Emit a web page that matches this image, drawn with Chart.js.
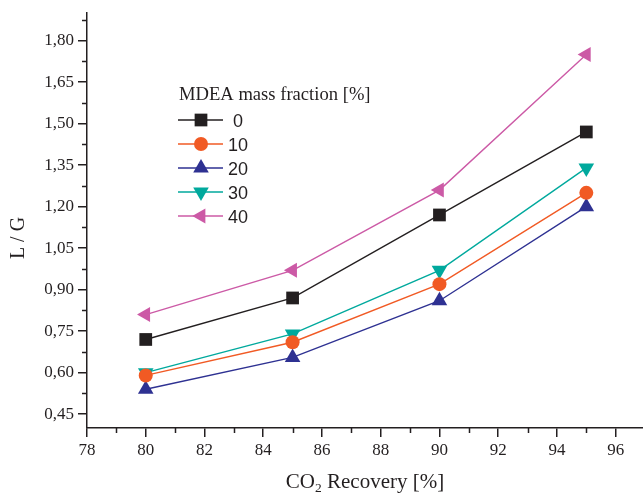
<!DOCTYPE html>
<html>
<head>
<meta charset="utf-8">
<script src="https://cdn.jsdelivr.net/npm/chart.js@4"></script>
<style>
  body { margin: 0; background: #fff; }
  canvas { display: block; }
</style>
</head>
<body>
<canvas id="lgChart" width="643" height="495"></canvas>
<script>
// CO2 recovery [%] on the x axis
const recovery = [80, 85, 90, 95];
// MDEA mass fraction [%] of each series
const fractions = ['0', '10', '20', '30', '40'];
// L / G ratio for each MDEA fraction
const lg0 = [0.72, 0.87, 1.17, 1.47];
const lg10 = [0.59, 0.71, 0.92, 1.25];
const lg20 = [0.54, 0.655, 0.86, 1.20];
const lg30 = [0.60, 0.74, 0.97, 1.34];
const lg40 = [0.81, 0.97, 1.26, 1.75];

const xTicks = [78, 80, 82, 84, 86, 88, 90, 92, 94, 96];
const xMinorTicks = [79, 81, 83, 85, 87, 89, 91, 93, 95];
const yTicks = [0.45, 0.60, 0.75, 0.90, 1.05, 1.20, 1.35, 1.50, 1.65, 1.80];
const yMinorTicks = [0.525, 0.675, 0.825, 0.975, 1.125, 1.275, 1.425, 1.575, 1.725, 1.875];

const ink = '#231f20';
const serif = '"Liberation Serif", "Times New Roman", serif';
const sans = '"Liberation Sans", Arial, sans-serif';

function series(label, values, color, style, radius, rotation) {
    return {
        label: label,
        data: recovery.map((x, i) => ({ x: x, y: values[i] })),
        borderColor: color,
        backgroundColor: color,
        borderWidth: 1.4,
        pointStyle: style,
        pointRadius: radius,
        pointHoverRadius: radius,
        pointRotation: rotation,
        pointBorderWidth: 0,
        tension: 0
    };
}

// minor tick marks, axis titles and the inset legend
const decorations = {
    id: 'decorations',
    afterDraw(chart) {
        const ctx = chart.ctx;
        const area = chart.chartArea;
        const xs = chart.scales.x;
        const ys = chart.scales.y;
        ctx.save();
        ctx.strokeStyle = ink;
        ctx.lineWidth = 1.5;
        ctx.beginPath();
        xMinorTicks.forEach(v => {
            const px = Math.round(xs.getPixelForValue(v)) + 0.5;
            ctx.moveTo(px, area.bottom);
            ctx.lineTo(px, area.bottom + 5);
        });
        yMinorTicks.forEach(v => {
            const py = Math.round(ys.getPixelForValue(v)) + 0.5;
            ctx.moveTo(area.left - 5, py);
            ctx.lineTo(area.left, py);
        });
        ctx.stroke();

        // y title
        ctx.fillStyle = ink;
        ctx.save();
        ctx.translate(24, 238);
        ctx.rotate(-Math.PI / 2);
        ctx.font = '20px ' + serif;
        ctx.textAlign = 'center';
        ctx.textBaseline = 'alphabetic';
        ctx.fillText('L / G', 0, 0);
        ctx.restore();

        // x title with subscript
        const main = '21px ' + serif;
        const sub = '13.5px ' + serif;
        ctx.font = main;
        const wCO = ctx.measureText('CO').width;
        const wRest = ctx.measureText(' Recovery [%]').width;
        ctx.font = sub;
        const w2 = ctx.measureText('2').width;
        let tx = (area.left + area.right) / 2 - (wCO + w2 + wRest) / 2;
        const base = 488;
        ctx.textAlign = 'left';
        ctx.font = main;
        ctx.fillText('CO', tx, base);
        ctx.font = sub;
        ctx.fillText('2', tx + wCO, base + 4);
        ctx.font = main;
        ctx.fillText(' Recovery [%]', tx + wCO + w2, base);

        // legend
        ctx.font = '18.6px ' + serif;
        ctx.fillText('MDEA mass fraction [%]', 179, 100);
        ctx.font = '18px ' + sans;
        chart.data.datasets.forEach((ds, i) => {
            const cy = 120 + i * 24;
            ctx.strokeStyle = ds.borderColor;
            ctx.lineWidth = 1.4;
            ctx.beginPath();
            ctx.moveTo(178, cy);
            ctx.lineTo(223, cy);
            ctx.stroke();
            ctx.fillStyle = ds.backgroundColor;
            Chart.helpers.drawPoint(ctx, {
                pointStyle: ds.pointStyle,
                radius: ds.pointRadius,
                rotation: ds.pointRotation,
                borderWidth: 0
            }, 201, cy);
            ctx.fillStyle = '#231f20';
            ctx.fillText(ds.label, i === 0 ? 233 : 228, cy + 6.5);
        });
        ctx.restore();
    }
};

new Chart(document.getElementById('lgChart'), {
    type: 'line',
    data: {
        datasets: [
            series(fractions[0], lg0, '#231f20', 'rect', 9, 0),
            series(fractions[1], lg10, '#f15a24', 'circle', 7, 0),
            series(fractions[2], lg20, '#2e3192', 'triangle', 9, 0),
            series(fractions[3], lg30, '#00a99d', 'triangle', 9, 180),
            series(fractions[4], lg40, '#cc5aa6', 'triangle', 8.7, 270)
        ]
    },
    options: {
        responsive: false,
        animation: false,
        events: [],
        layout: { autoPadding: false, padding: { top: 13, right: 0, left: 0, bottom: 0 } },
        plugins: {
            legend: { display: false },
            tooltip: { enabled: false }
        },
        scales: {
            x: {
                type: 'linear',
                min: 78,
                max: 96.93,
                afterBuildTicks: scale => { scale.ticks = xTicks.map(v => ({ value: v })); },
                afterFit: scale => {
                    scale.height = 67;
                    scale.paddingLeft = 0;
                    scale.paddingRight = 0;
                },
                border: { display: true, color: ink, width: 1.5 },
                grid: { drawOnChartArea: false, drawTicks: true, tickLength: 9, color: ink, lineWidth: 1.5 },
                ticks: {
                    color: ink,
                    padding: 3,
                    maxRotation: 0,
                    font: { family: serif, size: 17 },
                    callback: v => String(v)
                }
            },
            y: {
                min: 0.40,
                max: 1.90,
                afterBuildTicks: scale => { scale.ticks = yTicks.map(v => ({ value: v })); },
                afterFit: scale => {
                    scale.width = 87;
                    scale.paddingTop = 0;
                    scale.paddingBottom = 0;
                },
                border: { display: true, color: ink, width: 1.5 },
                grid: { drawOnChartArea: false, drawTicks: true, tickLength: 9, color: ink, lineWidth: 1.5 },
                ticks: {
                    color: ink,
                    padding: 4,
                    font: { family: serif, size: 17 },
                    callback: v => v.toFixed(2).replace('.', ',')
                }
            }
        }
    },
    plugins: [decorations]
});
</script>
</body>
</html>
